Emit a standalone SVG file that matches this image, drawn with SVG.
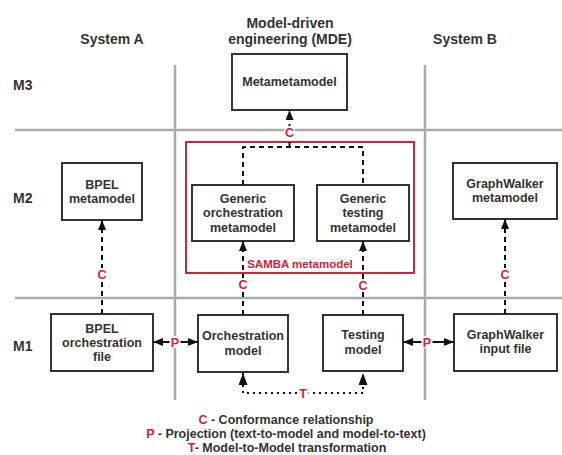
<svg xmlns="http://www.w3.org/2000/svg" width="562" height="455" viewBox="0 0 562 455">
<style>
text{font-family:"Liberation Sans",Arial,sans-serif;font-weight:bold;fill:#333;text-anchor:middle}
.hdr{font-size:14px}
.lvl{font-size:14px;text-anchor:start}
.box{fill:#fff;stroke:#333;stroke-width:2}
.nt{font-size:12.5px}
.grid{stroke:#aaa;stroke-width:2.5;fill:none}
.dash{stroke:#111;stroke-width:2;fill:none;stroke-dasharray:5 4}
.solid{stroke:#111;stroke-width:2;fill:none}
.dot{stroke:#111;stroke-width:2;fill:none;stroke-dasharray:2 4}
.lbl{font-size:12.5px;fill:#d0243a}
.lblbg{fill:#fff}
.red{fill:#d0243a}
.leg{font-size:12.5px}
</style>
<defs>
<marker id="ah" viewBox="0 0 10 8" refX="10" refY="4" markerWidth="10" markerHeight="8" markerUnits="userSpaceOnUse" orient="auto-start-reverse"><path d="M0,0 L10,4 L0,8 z" fill="#111"/></marker>
<marker id="ahT" viewBox="0 0 12 9" refX="12" refY="4.5" markerWidth="12" markerHeight="9" markerUnits="userSpaceOnUse" orient="auto-start-reverse"><path d="M0,0 L12,4.5 L0,9 z" fill="#111"/></marker>
</defs>
<rect width="562" height="455" fill="#fff"/>

<g id="headers">
<text class="hdr" x="112" y="44">System A</text>
<text class="hdr" x="290" y="28">Model-driven</text>
<text class="hdr" x="290" y="44">engineering (MDE)</text>
<text class="hdr" x="465" y="44">System B</text>
<text class="lvl" x="13" y="90">M3</text>
<text class="lvl" x="13" y="203">M2</text>
<text class="lvl" x="13" y="351">M1</text>
</g>

<g id="grid">
<line class="grid" x1="15" y1="130" x2="562" y2="130"/>
<line class="grid" x1="15" y1="298" x2="562" y2="298"/>
<line class="grid" x1="175" y1="65" x2="175" y2="400"/>
<line class="grid" x1="425" y1="65" x2="425" y2="400"/>
</g>

<g id="samba">
<rect x="186" y="142" width="228" height="131" fill="none" stroke="#d0243a" stroke-width="2"/>
<text class="lbl" x="300" y="268" style="font-size:11.5px">SAMBA metamodel</text>
</g>

<g id="metametamodel">
<rect class="box" x="232" y="54" width="115" height="56"/>
<text class="nt" x="289.5" y="85.5">Metametamodel</text>
</g>
<g id="bpel-metamodel">
<rect class="box" x="62" y="163" width="80" height="57"/>
<text class="nt" x="102" y="188.5">BPEL</text>
<text class="nt" x="102" y="202.5">metamodel</text>
</g>
<g id="generic-orchestration-metamodel">
<rect class="box" x="192" y="185" width="102" height="56"/>
<text class="nt" x="243" y="202.5">Generic</text>
<text class="nt" x="243" y="217">orchestration</text>
<text class="nt" x="243" y="231.5">metamodel</text>
</g>
<g id="generic-testing-metamodel">
<rect class="box" x="317" y="185" width="92" height="56"/>
<text class="nt" x="363" y="202.5">Generic</text>
<text class="nt" x="363" y="217">testing</text>
<text class="nt" x="363" y="231.5">metamodel</text>
</g>
<g id="graphwalker-metamodel">
<rect class="box" x="453" y="163" width="104" height="56"/>
<text class="nt" x="505" y="187.5">GraphWalker</text>
<text class="nt" x="505" y="201.5">metamodel</text>
</g>
<g id="bpel-orchestration-file">
<rect class="box" x="51" y="314" width="102" height="57"/>
<text class="nt" x="102" y="332.5">BPEL</text>
<text class="nt" x="102" y="346.5">orchestration</text>
<text class="nt" x="102" y="360.5">file</text>
</g>
<g id="orchestration-model">
<rect class="box" x="198" y="315" width="90" height="57"/>
<text class="nt" x="243" y="339.5">Orchestration</text>
<text class="nt" x="243" y="354.5">model</text>
</g>
<g id="testing-model">
<rect class="box" x="323" y="315" width="80" height="56"/>
<text class="nt" x="363" y="339">Testing</text>
<text class="nt" x="363" y="354">model</text>
</g>
<g id="graphwalker-input-file">
<rect class="box" x="454" y="314" width="103" height="57"/>
<text class="nt" x="505.5" y="338.5">GraphWalker</text>
<text class="nt" x="505.5" y="353">input file</text>
</g>

<g id="connectors">
<path class="dash" d="M243,185 V147 H363 V185"/>
<path class="dash" d="M289.5,147 V110" marker-end="url(#ah)"/>
<path class="dash" d="M102,314 V220" marker-end="url(#ah)"/>
<path class="dash" d="M243,315 V241" marker-end="url(#ah)"/>
<path class="dash" d="M363,315 V241" marker-end="url(#ah)"/>
<path class="dash" d="M505,314 V219" marker-end="url(#ah)"/>
<path class="solid" d="M153,342 H198" marker-start="url(#ah)" marker-end="url(#ah)"/>
<path class="solid" d="M403,342 H454" marker-start="url(#ah)" marker-end="url(#ah)"/>
<path class="dot" d="M243,373 V393 H363 V373" marker-start="url(#ahT)" marker-end="url(#ahT)"/>

<rect class="lblbg" x="284" y="126" width="11" height="12"/>
<text class="lbl" x="289.5" y="136.5">C</text>
<rect class="lblbg" x="96.5" y="268" width="11" height="12"/>
<text class="lbl" x="102" y="278.5">C</text>
<rect class="lblbg" x="237.5" y="278" width="11" height="12"/>
<text class="lbl" x="243" y="288.5">C</text>
<rect class="lblbg" x="357.5" y="279" width="11" height="12"/>
<text class="lbl" x="363" y="289.5">C</text>
<rect class="lblbg" x="499.5" y="268" width="11" height="12"/>
<text class="lbl" x="505" y="278.5">C</text>
<rect class="lblbg" x="169.5" y="336" width="11" height="12"/>
<text class="lbl" x="175" y="346.5">P</text>
<rect class="lblbg" x="421.5" y="336" width="11" height="12"/>
<text class="lbl" x="427" y="346.5">P</text>
<rect class="lblbg" x="297.5" y="387" width="11" height="12"/>
<text class="lbl" x="303" y="397.5">T</text>
</g>

<g id="legend">
<text class="leg" x="286" y="424"><tspan class="red">C</tspan> - Conformance relationship</text>
<text class="leg" x="286" y="438"><tspan class="red">P</tspan> - Projection (text-to-model and model-to-text)</text>
<text class="leg" x="287" y="452"><tspan class="red">T</tspan>- Model-to-Model transformation</text>
</g>
</svg>
